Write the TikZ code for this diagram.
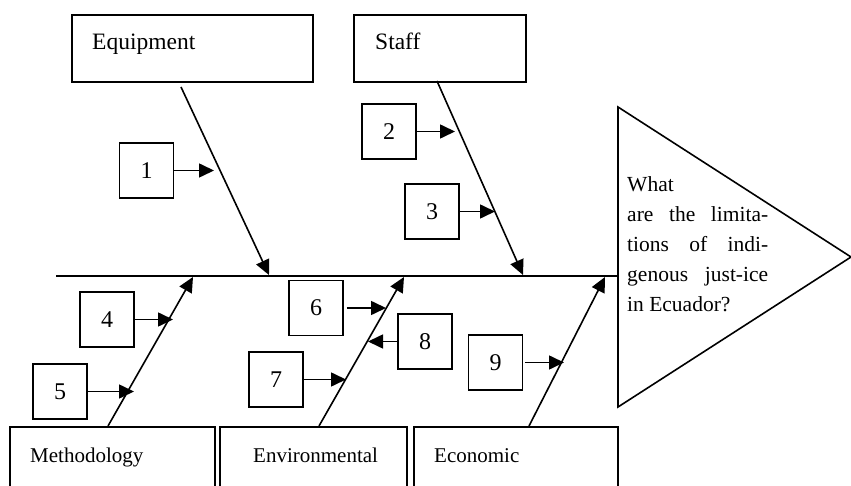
\documentclass[tikz,border=0pt]{standalone}
\usepackage{fontspec}
\setmainfont{Liberation Serif}
\usetikzlibrary{arrows.meta}
\begin{document}
\begin{tikzpicture}[x=1pt,y=-1pt,
  ln/.style={line width=1.6pt},
  arr/.style={ln,-{Triangle[length=15pt,width=14pt]}},
  bigbox/.style={draw,ln,inner sep=0pt,anchor=north west},
  numbox/.style={draw,ln,inner sep=0pt,minimum width=54pt,minimum height=55pt,font=\fontsize{24}{28}\selectfont},
  toplbl/.style={inner sep=0pt,anchor=base west,font=\fontsize{23.5}{28}\selectfont},
  botlbl/.style={inner sep=0pt,anchor=base west,font=\fontsize{21}{25}\selectfont},
  qlbl/.style={inner sep=0pt,anchor=base west,font=\fontsize{21.5}{30}\selectfont}
]
\useasboundingbox (0,0) rectangle (851,486);
\clip (0,0) rectangle (851,486);
% category boxes
\node[bigbox,minimum width=241pt,minimum height=67pt] (equip) at (71,14) {};
\node[bigbox,minimum width=172pt,minimum height=67pt] (staff) at (353,14) {};
\node[bigbox,minimum width=205pt,minimum height=80pt] (meth) at (9,426) {};
\node[bigbox,minimum width=187pt,minimum height=80pt] (env) at (219,426) {};
\node[bigbox,minimum width=204pt,minimum height=80pt] (econ) at (413,426) {};
\node[toplbl] (tequip) at (92,50) {Equipment};
\node[toplbl] (tstaff) at (375,50) {Staff};
\node[botlbl] (tmeth) at (30,462) {Methodology};
\node[botlbl] (tenv) at (253,462) {Environmental};
\node[botlbl] (tecon) at (434,462) {Economic};
% effect triangle
\coordinate (tA) at (618,107);
\coordinate (tB) at (851,257);
\coordinate (tC) at (618,407);
\draw[ln] (tA) -- (tB) -- (tC) -- cycle;
\node[qlbl] (q1) at (627,192) {What};
\node[qlbl] (q2) at (627,222) {\makebox[141pt][s]{are the limita-}};
\node[qlbl] (q3) at (627,252) {\makebox[141pt][s]{tions of indi-}};
\node[qlbl] (q4) at (627,282) {\makebox[141pt][s]{genous just-ice}};
\node[qlbl] (q5) at (627,312) {in Ecuador?};
% spine
\coordinate (sp0) at (56,276);
\coordinate (sp1) at (618,276);
\draw[ln] (sp0) -- (sp1);
% bones
\coordinate (e1) at (181,87);  \coordinate (e2) at (269,275);
\coordinate (s1) at (437,81);  \coordinate (s2) at (523,275);
\coordinate (m1) at (108,426); \coordinate (m2) at (193,277);
\coordinate (v1) at (319,426); \coordinate (v2) at (404,277);
\coordinate (c1) at (529,426); \coordinate (c2) at (605,277);
\draw[arr] (e1) -- (e2);
\draw[arr] (s1) -- (s2);
\draw[arr] (m1) -- (m2);
\draw[arr] (v1) -- (v2);
\draw[arr] (c1) -- (c2);
% numbered causes
\node[numbox] (b1) at (146.5,170.5) {1};
\node[numbox] (b2) at (389,131.5) {2};
\node[numbox] (b3) at (432,211.5) {3};
\node[numbox] (b4) at (107,319.5) {4};
\node[numbox] (b5) at (60,391.5) {5};
\node[numbox] (b6) at (316,308) {6};
\node[numbox] (b7) at (276,379.5) {7};
\node[numbox] (b8) at (425,341.5) {8};
\node[numbox] (b9) at (495.5,362.5) {9};
\coordinate (a1) at (214,170.5);
\coordinate (a2) at (455,131.5);
\coordinate (a3) at (495,211.5);
\coordinate (a4) at (173,319.5);
\coordinate (a5) at (134,391.5);
\coordinate (a6) at (386,308);
\coordinate (a7) at (346,379.5);
\coordinate (a8) at (368,341.5);
\coordinate (a9) at (564,362.5);
\draw[arr] (b1.east) -- (a1);
\draw[arr] (b2.east) -- (a2);
\draw[arr] (b3.east) -- (a3);
\draw[arr] (b4.east) -- (a4);
\draw[arr] (b5.east) -- (a5);
\draw[arr] ([xshift=3pt]b6.east) -- (a6);
\draw[arr] (b7.east) -- (a7);
\draw[arr] (b8.west) -- (a8);
\draw[arr] ([xshift=2pt]b9.east) -- (a9);
\end{tikzpicture}
\end{document}
